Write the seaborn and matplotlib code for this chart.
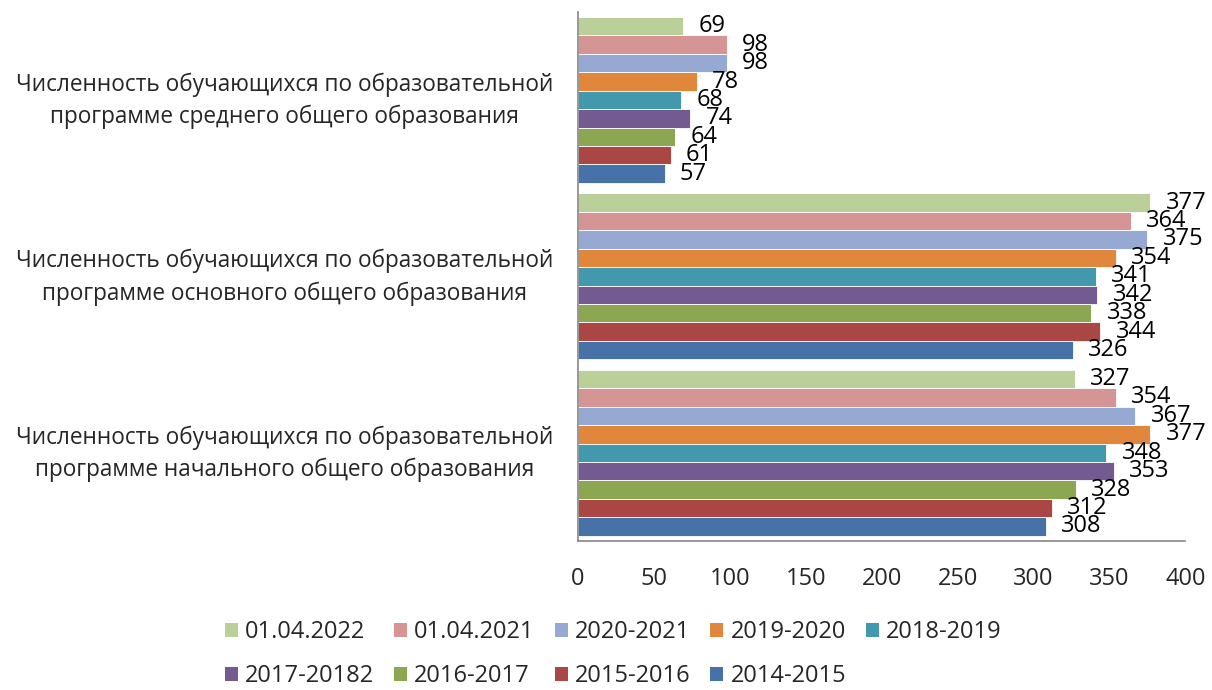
import pandas as pd
import matplotlib
matplotlib.use('Agg')
import matplotlib.pyplot as plt
import seaborn as sns
from matplotlib.patches import Patch

categories = [
    'Численность обучающихся по образовательной\nпрограмме среднего общего образования',
    'Численность обучающихся по образовательной\nпрограмме основного общего образования',
    'Численность обучающихся по образовательной\nпрограмме начального общего образования',
]
series = ['01.04.2022', '01.04.2021', '2020-2021', '2019-2020', '2018-2019',
          '2017-20182', '2016-2017', '2015-2016', '2014-2015']
values_srednee = [69, 98, 98, 78, 68, 74, 64, 61, 57]
values_osnovnoe = [377, 364, 375, 354, 341, 342, 338, 344, 326]
values_nachalnoe = [327, 354, 367, 377, 348, 353, 328, 312, 308]
colors = ['#BBD098', '#D59595', '#95A9D2', '#E0873C', '#4299AE',
          '#735A90', '#8CA652', '#AA4644', '#4672A8']

rows = []
for cat, vals in zip(categories, [values_srednee, values_osnovnoe, values_nachalnoe]):
    for s, v in zip(series, vals):
        rows.append({'category': cat, 'series': s, 'value': v})
df = pd.DataFrame(rows)

sns.set_style('white')
plt.rcParams['font.family'] = ['Open Sans', 'DejaVu Sans']

fig = plt.figure(figsize=(12.12, 6.9), dpi=100)
ax = fig.add_axes([0.477, 0.216, 0.501, 0.767])

sns.barplot(data=df, x='value', y='category', hue='series', order=categories,
            hue_order=series, palette=colors, orient='h', width=0.94,
            saturation=1, dodge=True, legend=False, edgecolor='white',
            linewidth=0.6, ax=ax)

for cont in ax.containers:
    ax.bar_label(cont, padding=11, fontsize=17, color='#000000')

ax.set_xlim(0, 400)
ax.set_xticks(range(0, 401, 50))
ax.set_xlabel('')
ax.set_ylabel('')
for side in ['top', 'right']:
    ax.spines[side].set_visible(False)
for side in ['left', 'bottom']:
    ax.spines[side].set_color('#868686')
    ax.spines[side].set_linewidth(1.2)
ax.tick_params(axis='x', length=0, pad=19, labelsize=17)
ax.tick_params(axis='y', length=0)

# category labels drawn by hand so the two lines sit where they do in the original
ax.set_yticklabels([])
for i, cat in enumerate(categories):
    ax.annotate(cat, xy=(0, i), xycoords=('axes fraction', 'data'),
                xytext=(-25, -1), textcoords='offset pixels', ha='right',
                va='center', multialignment='center', fontsize=16.3,
                linespacing=1.45)

# legend is filled column by column, so reorder to read row by row
ncol = 5
order = [0, 5, 1, 6, 2, 7, 3, 8, 4]
handles = [Patch(facecolor=colors[i], edgecolor='none') for i in order]
labels = [series[i] for i in order]
fig.legend(handles, labels, loc='lower center', bbox_to_anchor=(0.506, -0.028),
           ncol=ncol, frameon=False, fontsize=17, handlelength=0.55,
           handleheight=0.55, handletextpad=0.3, columnspacing=0.85,
           labelspacing=0.85)

fig.savefig('out.png', dpi=100)
